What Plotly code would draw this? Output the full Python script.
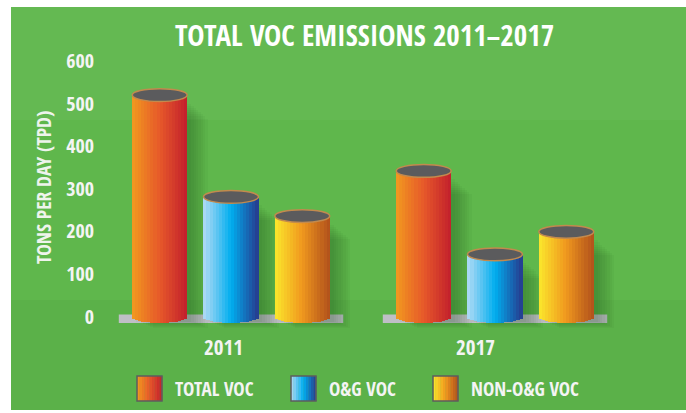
import numpy as np
import plotly.graph_objects as go

# ---- data ----
categories = ["2011", "2017"]
series_names = ["TOTAL VOC", "O&G VOC", "NON-O&G VOC"]
total_voc = [520, 342]
og_voc = [281, 146]
non_og_voc = [236, 199]
y_ticks = [0, 100, 200, 300, 400, 500, 600]
title_text = "TOTAL VOC EMISSIONS 2011–2017"
y_title = "TONS PER DAY (TPD)"

values = [total_voc, og_voc, non_og_voc]
gradients = [
    ["#f29a1f", "#e6582a", "#c21f2c"],
    ["#b3dbf5", "#00aeef", "#263b8e"],
    ["#fbe72c", "#f0981e", "#b0501b"],
]

FONT = "Open Sans Condensed, Roboto Condensed, Liberation Sans Narrow, sans-serif"
GREEN = "#5fb74c"
TXT = "#f4f4f4"

# layout geometry
W, H = 686, 413
ML, MR, MT, MB = 100, 26, 44, 82
XR = [-0.4962, 1.625]
YR = [-34, 640]
pw, ph = W - ML - MR, H - MT - MB

def px_x(p):  # pixel -> paper x
    return (p - ML) / pw

def px_y(p):  # pixel -> paper y
    return (H - MB - p) / ph

def hex2rgb(h):
    h = h.lstrip("#")
    return np.array([int(h[i:i + 2], 16) for i in (0, 2, 4)], dtype=float)

def grad_color(stops, t):
    seg = t * (len(stops) - 1)
    i = min(int(seg), len(stops) - 2)
    f = seg - i
    c = hex2rgb(stops[i]) * (1 - f) + hex2rgb(stops[i + 1]) * f
    return "rgb(%d,%d,%d)" % tuple(c.round())

offsets = [-0.27, 0.0, 0.27]
bar_w = 0.208
N = 18
depth = 15  # data units of elliptical curvature
group_x = np.arange(len(categories), dtype=float)

fig = go.Figure()
shapes = []

# green panel
shapes.append(dict(type="rect", xref="paper", yref="paper", layer="below",
                   x0=px_x(11), x1=px_x(690), y0=px_y(410), y1=px_y(7),
                   fillcolor=GREEN, line=dict(width=0)))
shapes.append(dict(type="rect", xref="paper", yref="paper", layer="below",
                   x0=px_x(11), x1=px_x(690), y0=px_y(120), y1=px_y(7),
                   fillcolor="rgba(255,255,255,0.035)", line=dict(width=0)))
shapes.append(dict(type="rect", xref="paper", yref="paper", layer="below",
                   x0=px_x(11), x1=px_x(690), y0=px_y(410), y1=px_y(300),
                   fillcolor="rgba(0,40,0,0.035)", line=dict(width=0)))

# gray baselines
for g in group_x:
    shapes.append(dict(type="rect", xref="x", yref="y", layer="below",
                       x0=g - 0.425, x1=g + 0.425, y0=-15, y1=5,
                       fillcolor="#bfbfc6", line=dict(width=0)))

# soft shadows to the right of / below each cylinder
for s, vals in enumerate(values):
    for k in range(8):
        fig.add_trace(go.Bar(
            x=group_x + offsets[s] + 0.015 + 0.009 * k, y=[v - 20 - 5 * k + 12 + 2 * k for v in vals],
            base=-12 - 2 * k,
            width=bar_w, marker=dict(color="rgba(15,60,15,0.045)", line=dict(width=0)),
            showlegend=False, hoverinfo="skip"))

# cylinders as graded strips
for s, vals in enumerate(values):
    for i in range(N):
        u = -1 + (2 * i + 1) / N
        strip_w = bar_w / N
        base = -depth * np.sqrt(max(0.0, 1 - u * u))
        fig.add_trace(go.Bar(
            x=group_x + offsets[s] + u * bar_w / 2,
            y=[v - base for v in vals],
            base=base,
            width=strip_w * 1.08,
            marker=dict(color=grad_color(gradients[s], (i + 0.5) / N), line=dict(width=0)),
            showlegend=False,
            name=series_names[s],
            hovertemplate=series_names[s] + ": %{customdata}<extra></extra>",
            customdata=vals,
        ))
    # top openings
    for g, v in zip(group_x, vals):
        shapes.append(dict(type="circle", xref="x", yref="y", layer="above",
                           x0=g + offsets[s] - bar_w / 2, x1=g + offsets[s] + bar_w / 2,
                           y0=v - depth, y1=v + depth,
                           fillcolor="#5b5b5d", line=dict(color="#c28a4e", width=1.5)))

annotations = []
annotations.append(dict(text="<b>" + title_text + "</b>", xref="paper", yref="paper",
                        x=px_x(364), y=px_y(34), xanchor="center", yanchor="middle", showarrow=False,
                        font=dict(family=FONT, size=29, color="white")))
annotations.append(dict(text="<b>" + y_title + "</b>", xref="paper", yref="paper",
                        x=px_x(43), y=px_y(188), xanchor="center", yanchor="middle",
                        textangle=-90, showarrow=False,
                        font=dict(family=FONT, size=19.5, color="#eef4ec")))
label_px = [223, 475]
for c, lp in zip(categories, label_px):
    annotations.append(dict(text="<b>" + c + "</b>", xref="paper", yref="paper",
                            x=px_x(lp), y=px_y(347), xanchor="center", yanchor="middle",
                            showarrow=False,
                            font=dict(family=FONT, size=21, color=TXT)))

# legend (manual)
leg_box_x = [137, 291, 433]
for s, name in enumerate(series_names):
    x0 = leg_box_x[s]
    nst = 10
    for i in range(nst):
        shapes.append(dict(type="rect", xref="paper", yref="paper",
                           x0=px_x(x0 + 25 * i / nst), x1=px_x(x0 + 25 * (i + 1) / nst + 0.3),
                           y0=px_y(401), y1=px_y(376),
                           fillcolor=grad_color(gradients[s], (i + 0.5) / nst), line=dict(width=0)))
    shapes.append(dict(type="rect", xref="paper", yref="paper",
                       x0=px_x(x0), x1=px_x(x0 + 25), y0=px_y(401), y1=px_y(376),
                       fillcolor="rgba(0,0,0,0)", line=dict(color="#5e5e5e", width=1.5)))
    annotations.append(dict(text="<b>" + name + "</b>", xref="paper", yref="paper",
                            x=px_x(x0 + 36), y=px_y(389), xanchor="left", yanchor="middle",
                            showarrow=False,
                            font=dict(family=FONT, size=19, color=TXT)))

fig.update_layout(
    width=W, height=H,
    margin=dict(l=ML, r=MR, t=MT, b=MB),
    paper_bgcolor="white", plot_bgcolor="rgba(0,0,0,0)",
    barmode="overlay", bargap=0,
    showlegend=False,
    shapes=shapes, annotations=annotations,
    xaxis=dict(range=XR, showgrid=False, zeroline=False, showticklabels=False,
               showline=False, fixedrange=True),
    yaxis=dict(range=YR, tickvals=y_ticks, ticktext=["<b>%d</b>" % t for t in y_ticks],
               showgrid=False, zeroline=False, showline=False,
               tickfont=dict(family=FONT, size=20, color=TXT),
               ticks="", ticklabelstandoff=5, fixedrange=True),
)

fig.write_html("out.html", config={"displayModeBar": False},
               post_script="document.body.style.margin='0';")
